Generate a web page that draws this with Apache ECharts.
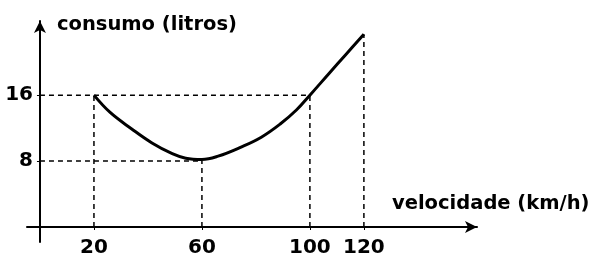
<!DOCTYPE html>
<html>
<head>
<meta charset="utf-8">
<script src="https://cdn.jsdelivr.net/npm/echarts@6/dist/echarts.min.js"></script>
<style>html,body{margin:0;padding:0;background:#fff;}#c{width:595px;height:260px;}</style>
</head>
<body>
<div id="c"></div>
<script>
// Data
const velocidade = [20, 26, 34, 41.5, 49, 54, 60, 66, 74.5, 82, 89, 95, 100, 107, 113.5, 120];
const consumo = [16, 13.9, 11.9, 10.2, 8.9, 8.35, 8.2, 8.6, 9.7, 10.9, 12.5, 14.2, 16, 18.6, 21.0, 23.4];
const xTicks = [20, 60, 100, 120];
const yTicks = [8, 16];
const guideX = [20, 60, 100, 120];
const guideY = [16, 8, 16, 23.4];
const xName = 'velocidade (km/h)';
const yName = 'consumo (litros)';

const FONT = 'DejaVu Sans';
const curve = velocidade.map((v, i) => [v, consumo[i]]);

const dashStyle = { color: '#000', width: 1.5, type: [5, 4] };
const guideSeries = [];
guideX.forEach((gx, i) => {
  guideSeries.push({
    type: 'line', silent: true, symbol: 'none', lineStyle: dashStyle, z: 1,
    data: [[gx, 0], [gx, guideY[i]]]
  });
});
yTicks.forEach(level => {
  let end = 0;
  guideX.forEach((gx, i) => { if (guideY[i] === level && gx > end) end = gx; });
  guideSeries.push({
    type: 'line', silent: true, symbol: 'none', lineStyle: dashStyle, z: 1,
    data: [[0, level], [end, level]]
  });
});

const chart = echarts.init(document.getElementById('c'), null, { renderer: 'canvas' });
chart.setOption({
  backgroundColor: '#fff',
  animation: false,
  grid: { left: 27, width: 450, top: 21, height: 221, containLabel: false, outerBoundsMode: 'none' },
  xAxis: {
    type: 'value', min: -4.8, max: 161.9,
    splitLine: { show: false },
    axisLine: { onZero: true, lineStyle: { color: '#000', width: 2 }, symbol: ['none', 'arrow'], symbolSize: [9, 12] },
    axisTick: { show: true, customValues: xTicks, length: 3, lineStyle: { color: '#000', width: 1 } },
    axisLabel: { customValues: xTicks, margin: -4, color: '#000', fontFamily: FONT, fontWeight: 'bold', fontSize: 20 },
    name: xName, nameLocation: 'end', nameGap: -85,
    nameTextStyle: { color: '#000', fontFamily: FONT, fontWeight: 'bold', fontSize: 19.5, align: 'left', verticalAlign: 'bottom', lineHeight: 46 }
  },
  yAxis: {
    type: 'value', min: -1.82, max: 25,
    splitLine: { show: false },
    axisLine: { onZero: true, lineStyle: { color: '#000', width: 2 }, symbol: ['none', 'arrow'], symbolSize: [9, 12] },
    axisTick: { show: true, customValues: yTicks, length: 3, lineStyle: { color: '#000', width: 1 } },
    axisLabel: { customValues: yTicks, margin: -6, color: '#000', fontFamily: FONT, fontWeight: 'bold', fontSize: 20 },
    name: yName, nameLocation: 'end', nameGap: -4,
    nameTextStyle: { color: '#000', fontFamily: FONT, fontWeight: 'bold', fontSize: 19.5, align: 'left', verticalAlign: 'middle', padding: [0, 0, 0, 17] }
  },
  series: guideSeries.concat([{
    type: 'line', data: curve, smooth: 0.4, symbol: 'none', z: 3,
    lineStyle: { color: '#000', width: 3 }
  }])
});
</script>
</body>
</html>
